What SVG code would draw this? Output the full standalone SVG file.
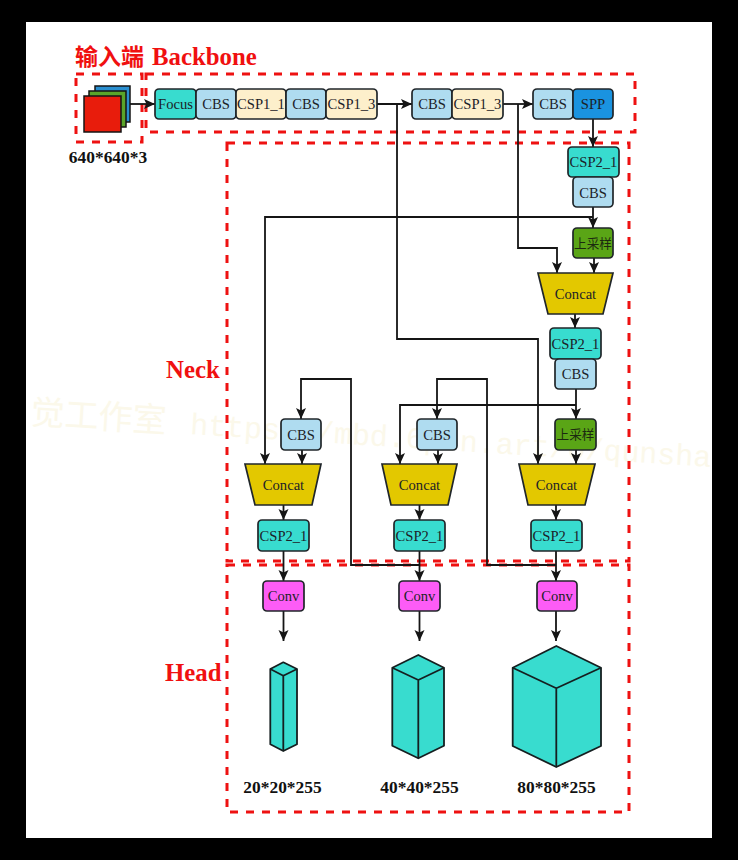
<svg xmlns="http://www.w3.org/2000/svg" width="738" height="860" viewBox="0 0 738 860">
<style>
.n{stroke:#20262a;stroke-width:1.7}
.t{font-family:"Liberation Serif",serif;font-size:14.6px;fill:#1c2228;text-anchor:middle}
.c{font-family:"Noto Sans CJK SC",sans-serif;font-size:12.6px;fill:#1c2a10;text-anchor:middle}
.l{font-family:"Liberation Serif",serif;font-weight:bold;font-size:17.4px;fill:#111;text-anchor:middle}
.r{font-family:"Liberation Serif","Noto Sans CJK SC",serif;font-weight:bold;font-size:24.8px;fill:#f01010}
.d{fill:none;stroke:#ee1111;stroke-width:3;stroke-dasharray:8 8}
.w{fill:none;stroke:#151515;stroke-width:1.8}
.a{marker-end:url(#ah)}
.b{fill:#38dccf;stroke:#151f20;stroke-width:1.8;stroke-linejoin:round}
.cbs{fill:#afdcf0}.csp1{fill:#fdefcb}.csp2{fill:#38dccf}.spp{fill:#1a93e0}.up{fill:#5aa516}.con{fill:#e3c800}.conv{fill:#fd5cf6}
</style>
<defs>
<marker id="ah" markerUnits="userSpaceOnUse" markerWidth="13" markerHeight="12" refX="11" refY="6" orient="auto">
<path d="M0,1L11,6L0,11L2.500,6Z" fill="#151515"/>
</marker>
</defs>
<rect x="0" y="0" width="738" height="860" fill="#000"/>
<rect x="26" y="22" width="686" height="816" fill="#fff"/>
<g id="watermark" transform="rotate(3.6 30 424)" fill="#fbf8ea">
<text x="30" y="424" font-family="Noto Sans CJK SC,sans-serif" font-size="34">觉工作室</text>
<text x="190" y="424" font-family="Liberation Mono,monospace" font-size="30">https://mbd.6pen.art/o/qunsha</text>
</g>
<g id="regions">
<rect class="d" x="76" y="74" width="66" height="68"/>
<rect class="d" x="146" y="74" width="489" height="58"/>
<rect class="d" x="227" y="143" width="402" height="418"/>
<rect class="d" x="227" y="565" width="402" height="247"/>
</g>
<g id="titles">
<text class="r" x="75" y="65" style="font-size:23px">输入端</text>
<text class="r" x="152" y="65">Backbone</text>
<text class="r" x="166" y="378">Neck</text>
<text class="r" x="165" y="681">Head</text>
<text class="l" x="108" y="163">640*640*3</text>
</g>
<g id="input">
<rect x="95" y="86" width="35" height="36" fill="#2a8fd0" stroke="#151515" stroke-width="1.5"/>
<rect x="89" y="91" width="37" height="36" fill="#5aa52a" stroke="#151515" stroke-width="1.5"/>
<rect x="84" y="96" width="37" height="36" fill="#e81c0c" stroke="#151515" stroke-width="1.5"/>
</g>
<g id="connectors">
<path class="w a" d="M130,104H155"/>
<path class="w a" d="M377,104H412"/>
<path class="w a" d="M397,104V339H538V464"/>
<path class="w a" d="M503,104H533"/>
<path class="w a" d="M518,104V248H557V273"/>
<path class="w a" d="M593,119V147"/>
<path class="w a" d="M593,207V228"/>
<path class="w a" d="M593,217H265V464"/>
<path class="w a" d="M594,258V273"/>
<path class="w a" d="M575,314V328"/>
<path class="w a" d="M576,389V419"/>
<path class="w a" d="M576,405H400V464"/>
<path class="w a" d="M576,450V464"/>
<path class="w a" d="M302,450V464"/>
<path class="w a" d="M438,450V464"/>
<path class="w a" d="M283.500,505V520"/>
<path class="w a" d="M419.500,505V520"/>
<path class="w a" d="M556,505V520"/>
<path class="w a" d="M283.500,551V581"/>
<path class="w a" d="M419.500,551V581"/>
<path class="w a" d="M556,551V581"/>
<path class="w a" d="M419.500,565H351V379H301V419"/>
<path class="w a" d="M556,565H487V379H437V419"/>
<path class="w a" d="M283.500,611V641"/>
<path class="w a" d="M419.500,611V641"/>
<path class="w a" d="M556,611V641"/>
</g>
<g id="focus"><rect class="n csp2" x="155" y="89" width="41" height="30" rx="4"/><text class="t" x="175.500" y="109">Focus</text></g>
<g id="cbs1"><rect class="n cbs" x="196" y="89" width="40" height="30" rx="4"/><text class="t" x="216" y="109">CBS</text></g>
<g id="csp1-1"><rect class="n csp1" x="236" y="89" width="50" height="30" rx="4"/><text class="t" x="261" y="109">CSP1_1</text></g>
<g id="cbs2"><rect class="n cbs" x="286" y="89" width="40" height="30" rx="4"/><text class="t" x="306" y="109">CBS</text></g>
<g id="csp1-3a"><rect class="n csp1" x="326" y="89" width="51" height="30" rx="4"/><text class="t" x="351.500" y="109">CSP1_3</text></g>
<g id="cbs3"><rect class="n cbs" x="412" y="89" width="40" height="30" rx="4"/><text class="t" x="432" y="109">CBS</text></g>
<g id="csp1-3b"><rect class="n csp1" x="452" y="89" width="51" height="30" rx="4"/><text class="t" x="477.500" y="109">CSP1_3</text></g>
<g id="cbs4"><rect class="n cbs" x="533" y="89" width="40" height="30" rx="4"/><text class="t" x="553" y="109">CBS</text></g>
<g id="spp"><rect class="n spp" x="573" y="89" width="40" height="30" rx="4"/><text class="t" x="593" y="109">SPP</text></g>
<g id="csp2-top"><rect class="n csp2" x="568" y="147" width="51" height="30" rx="4"/><text class="t" x="593.500" y="167">CSP2_1</text></g>
<g id="cbs5"><rect class="n cbs" x="573" y="177" width="40" height="30" rx="4"/><text class="t" x="593" y="198">CBS</text></g>
<g id="up1"><rect class="n up" x="573" y="228" width="40" height="30" rx="4"/><text class="c" x="593" y="248">上采样</text></g>
<g id="concat-top"><path class="n con" d="M538,273H613L603,314H548Z"/><text class="t" x="575.500" y="299">Concat</text></g>
<g id="csp2-mid"><rect class="n csp2" x="550" y="328" width="51" height="31" rx="4"/><text class="t" x="575.500" y="349">CSP2_1</text></g>
<g id="cbs6"><rect class="n cbs" x="555" y="359" width="41" height="30" rx="4"/><text class="t" x="575.500" y="379">CBS</text></g>
<g id="cbs7"><rect class="n cbs" x="281" y="419" width="40" height="31" rx="4"/><text class="t" x="301" y="440">CBS</text></g>
<g id="cbs8"><rect class="n cbs" x="417" y="419" width="40" height="31" rx="4"/><text class="t" x="437" y="440">CBS</text></g>
<g id="up2"><rect class="n up" x="555" y="419" width="41" height="31" rx="4"/><text class="c" x="575.500" y="439">上采样</text></g>
<g id="concat-l"><path class="n con" d="M245,464H321L312,505H255Z"/><text class="t" x="283.500" y="490">Concat</text></g>
<g id="concat-m"><path class="n con" d="M382,464H457L448,505H391Z"/><text class="t" x="419.500" y="490">Concat</text></g>
<g id="concat-r"><path class="n con" d="M519,464H595L585,505H528Z"/><text class="t" x="556.500" y="490">Concat</text></g>
<g id="csp2-l"><rect class="n csp2" x="258" y="520" width="51" height="31" rx="4"/><text class="t" x="283.500" y="541">CSP2_1</text></g>
<g id="csp2-m"><rect class="n csp2" x="394" y="520" width="51" height="31" rx="4"/><text class="t" x="419.500" y="541">CSP2_1</text></g>
<g id="csp2-r"><rect class="n csp2" x="531" y="520" width="51" height="31" rx="4"/><text class="t" x="556.500" y="541">CSP2_1</text></g>
<g id="conv-l"><rect class="n conv" x="263" y="581" width="41" height="30" rx="4"/><text class="t" x="283.500" y="601">Conv</text></g>
<g id="conv-m"><rect class="n conv" x="399" y="581" width="41" height="30" rx="4"/><text class="t" x="419.500" y="601">Conv</text></g>
<g id="conv-r"><rect class="n conv" x="537" y="581" width="40" height="30" rx="4"/><text class="t" x="557" y="601">Conv</text></g>
<g id="cube-20">
<path class="b" d="M283.300,662.300L297,669V744.300L283.300,751L270.300,744.300V669Z"/>
<path class="b" style="fill:none" d="M270.300,669L283.300,675.700L297,669M283.300,675.700V751"/>
<text class="l" x="282.500" y="793">20*20*255</text>
</g>
<g id="cube-40">
<path class="b" d="M418.300,655L444,667.700V745.700L418.300,758.300L392.300,745.700V667.700Z"/>
<path class="b" style="fill:none" d="M392.300,667.700L418.300,680L444,667.700M418.300,680V758.300"/>
<text class="l" x="419.500" y="793">40*40*255</text>
</g>
<g id="cube-80">
<path class="b" d="M556.300,646L601,667.700V746L556.300,767L512.700,746V667.700Z"/>
<path class="b" style="fill:none" d="M512.700,667.700L556.300,688.300L601,667.700M556.300,688.300V767"/>
<text class="l" x="556.500" y="793">80*80*255</text>
</g>
</svg>
